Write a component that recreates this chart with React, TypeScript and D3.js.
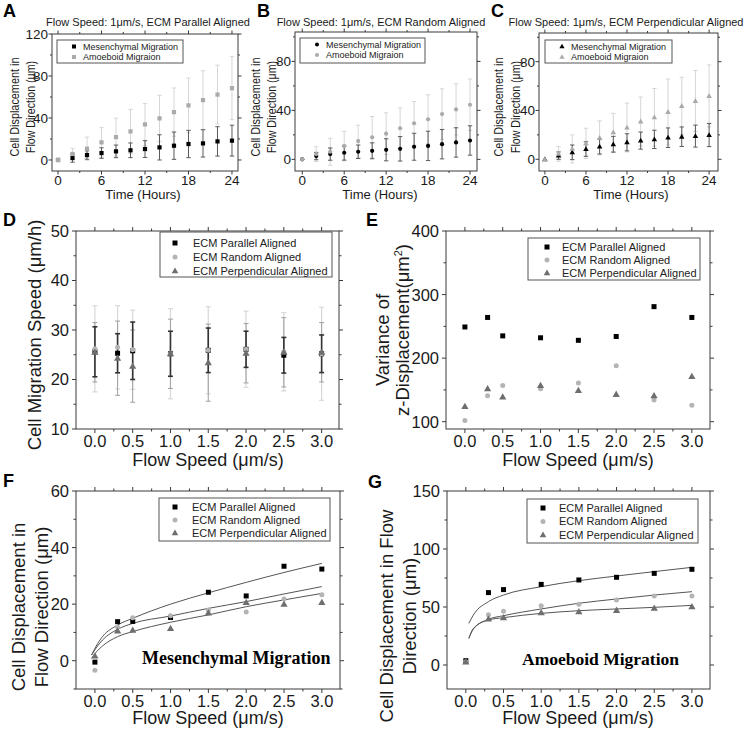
import React from "react";
import * as d3 from "d3";

// ---------------- DATA ----------------
const hours = [0, 2, 4, 6, 8, 10, 12, 14, 16, 18, 20, 22, 24];

// Panel A (ECM parallel aligned, flow 1 um/s)
const aMesMean = [0, 1.9, 4.7, 6.6, 8.2, 9.2, 10.4, 12, 13.6, 15.2, 15.8, 17.7, 18.4];
const aMesSd = [0, 4, 4, 5, 6, 7, 8, 12, 13, 13, 13, 14, 14.7];
const aAmoMean = [0, 5.7, 10.8, 16.8, 21.8, 27.2, 33.9, 39.6, 45.6, 52, 57, 62.3, 68.4];
const aAmoSd = [0, 5.5, 11, 14, 18, 21, 20, 22, 23, 26, 28, 28, 30];

// Panel B (ECM random aligned)
const bMesMean = [0, 2.7, 4.3, 5.4, 6.2, 7, 7.8, 8.6, 10.3, 11, 12.4, 13.8, 15.4];
const bMesSd = [0, 3, 5, 6, 5.5, 6.5, 9, 10, 11, 12, 12, 12, 12];
const bAmoMean = [0, 4.3, 6.2, 10.8, 14.9, 18, 21, 25.4, 29.5, 32.7, 37, 40.8, 44.6];
const bAmoSd = [0, 6, 11, 12, 13, 17, 17, 16.6, 17.8, 20, 20.6, 21, 21];

// Panel C (ECM perpendicular aligned)
const cMesMean = [0, 3, 5.7, 8.4, 10.4, 12.3, 13.9, 15.3, 16.3, 17.7, 18.5, 19, 19.9];
const cMesSd = [0, 3, 6, 6, 6, 6.5, 7, 7, 7.5, 8, 8, 9, 9.5];
const cAmoMean = [0, 4.4, 8.5, 13, 17.5, 22, 26, 31, 34.4, 38.8, 43.7, 47.8, 51.9];
const cAmoSd = [0, 6, 11.5, 12.4, 14, 15.7, 20, 20, 23.6, 27, 23.5, 25, 25.4];

const flowSpeed = [0, 0.3, 0.5, 1.0, 1.5, 2.0, 2.5, 3.0];

// Panel D: migration speed
const dParMean = [25.6, 25.3, 25.8, 25.2, 25.9, 26.1, 24.9, 25.2];
const dParSd = [5.05, 3.95, 5.8, 4.55, 4.5, 3.65, 3.6, 3.8];
const dRanMean = [26.2, 26.5, 26.0, 25.2, 25.9, 26.1, 25.6, 25.2];
const dRanSd = [8.7, 8.4, 8.0, 9.1, 8.8, 7.7, 7.9, 9.4];
const dPerMean = [25.5, 24.3, 22.7, 25.2, 23.4, 25.3, 25.5, 25.5];
const dPerSd = [6.0, 7.5, 7.3, 7.0, 7.8, 6.0, 7.0, 6.0];

// Panel E: variance of z-displacement
const ePar = [249, 264, 235, 232, 228, 234, 281, 264];
const eRan = [102, 141, 157, 152, 161, 188, 134, 126];
const ePer = [124, 152, 139, 157, 149, 143, 141, 171];

// Panel F: mesenchymal displacement
const fPar = [-0.5, 13.8, 13.9, 15.3, 24.2, 22.9, 33.4, 32.4];
const fRan = [-3.4, 11.8, 15.2, 15.9, 17.9, 17.2, 21.8, 23.3];
const fPer = [1.7, 10.5, 10.8, 11.4, 16.9, 20.6, 20.0, 20.6];
const fFitX = [-0.044, 0.013, 0.1, 0.3, 0.5, 1.0, 1.5, 2.0, 2.5, 3.0];
const fFitPar = [2.0, 5.0, 8.5, 12.6, 15.0, 20.0, 24.0, 27.7, 31.2, 34.4];
const fFitRan = [2.0, 4.4, 7.3, 11.1, 13.2, 15.8, 18.5, 20.9, 23.6, 26.2];
const fFitPer = [0.8, 2.9, 5.2, 8.5, 10.3, 13.6, 16.2, 19.1, 21.5, 23.8];

// Panel G: amoeboid displacement
const gPar = [3.7, 62.4, 65.0, 69.5, 73.3, 75.6, 79.0, 82.5];
const gRan = [2.9, 43.4, 46.3, 51.1, 52.3, 56.0, 59.5, 59.5];
const gPer = [2.6, 39.7, 40.8, 45.1, 46.0, 47.1, 48.9, 50.3];
const gFitX = [0.04, 0.1, 0.3, 0.5, 1.0, 1.5, 2.0, 2.5, 3.0];
const gFitPar = [35.9, 43.1, 54.6, 60.3, 67.5, 72.7, 76.7, 80.5, 84.2];
const gFitRan = [23.0, 31.0, 39.4, 42.5, 48.3, 53.2, 56.9, 60.3, 63.2];
const gFitPer = [23.0, 31.5, 38.8, 40.8, 44.5, 46.8, 48.3, 49.7, 51.4];

// ticks & labels
const timeTicks = [0, 6, 12, 18, 24];
const timeMinor = [3, 9, 15, 21];
const aYTicks = [0, 40, 80, 120];
const aYMinor = [20, 60, 100];
const bcYTicks = [0, 40, 80];
const bcYMinor = [20, 60, 100];
const flowTicks = [0, 0.5, 1.0, 1.5, 2.0, 2.5, 3.0];
const flowMinor = [0.25, 0.75, 1.25, 1.75, 2.25, 2.75];
const dYTicks = [10, 20, 30, 40, 50];
const dYMinor = [15, 25, 35, 45];
const eYTicks = [100, 200, 300, 400];
const eYMinor = [150, 250, 350];
const fYTicks = [0, 20, 40, 60];
const fYMinor = [-10, 10, 30, 50];
const gYTicks = [0, 50, 100, 150];
const gYMinor = [25, 75, 125];

const topLegend = ["Mesenchymal Migration", "Amoeboid Migraion"];
const ecmLegend = ["ECM Parallel Aligned", "ECM Random Aligned", "ECM Perpendicular Aligned"];

// ---------------- STYLE ----------------
const FONT = "'Liberation Sans', Arial, Helvetica, sans-serif";
const SERIF = "'Liberation Serif', 'Times New Roman', serif";
const AXIS = "#3a3a3a";
const C_PAR = "#000000";
const C_RAN = "#b4b4b4";
const C_PER = "#6e6e6e";

type Shape = "square" | "circle" | "triangle";

function Marker({ shape, x, y, size, fill }: { shape: Shape; x: number; y: number; size: number; fill: string }) {
  if (shape === "square") return <rect x={x - size / 2} y={y - size / 2} width={size} height={size} fill={fill} />;
  if (shape === "circle") return <circle cx={x} cy={y} r={size / 2} fill={fill} />;
  const p = d3.symbol(d3.symbolTriangle, size * size * 0.75)();
  return <path d={p || ""} transform={`translate(${x},${y + size * 0.08})`} fill={fill} />;
}

function Axes({ x, y, xMajor, xMinor, yMajor, yMinor, fmtX, fmtY, fs, xDy, yDx, maj, mnr }: any) {
  const [l, r] = x.range();
  const [b, t] = y.range();
  const ln = (k: string, x1: number, y1: number, x2: number, y2: number) => (
    <line key={k} x1={x1} y1={y1} x2={x2} y2={y2} stroke={AXIS} strokeWidth={1} />
  );
  const els: any[] = [];
  xMajor.forEach((v: number) => {
    els.push(ln("xb" + v, x(v), b, x(v), b + maj));
    els.push(ln("xt" + v, x(v), t, x(v), t - maj));
  });
  xMinor.forEach((v: number) => {
    els.push(ln("xbm" + v, x(v), b, x(v), b + mnr));
    els.push(ln("xtm" + v, x(v), t, x(v), t - mnr));
  });
  yMajor.forEach((v: number) => {
    els.push(ln("yl" + v, l, y(v), l - maj, y(v)));
    els.push(ln("yr" + v, r, y(v), r + maj, y(v)));
  });
  yMinor.forEach((v: number) => {
    els.push(ln("ylm" + v, l, y(v), l - mnr, y(v)));
    els.push(ln("yrm" + v, r, y(v), r + mnr, y(v)));
  });
  return (
    <g>
      <rect x={l} y={t} width={r - l} height={b - t} fill="none" stroke={AXIS} strokeWidth={1} />
      {els}
      <g fontFamily={FONT} fontSize={fs} fill="#1a1a1a">
        {xMajor.map((v: number) => (
          <text key={"lx" + v} x={x(v)} y={b + xDy} textAnchor="middle">{fmtX(v)}</text>
        ))}
        {yMajor.map((v: number) => (
          <text key={"ly" + v} x={l - yDx} y={y(v) + fs * 0.36} textAnchor="end">{fmtY(v)}</text>
        ))}
      </g>
    </g>
  );
}

function ErrBars({ xs, ys, sd, x, y, color, w, cap }: any) {
  return (
    <g stroke={color} strokeWidth={w}>
      {xs.map((v: number, i: number) =>
        sd[i] > 0 ? (
          <g key={i}>
            <line x1={x(v)} x2={x(v)} y1={y(ys[i] - sd[i])} y2={y(ys[i] + sd[i])} />
            <line x1={x(v) - cap} x2={x(v) + cap} y1={y(ys[i] + sd[i])} y2={y(ys[i] + sd[i])} />
            <line x1={x(v) - cap} x2={x(v) + cap} y1={y(ys[i] - sd[i])} y2={y(ys[i] - sd[i])} />
          </g>
        ) : null
      )}
    </g>
  );
}

function Points({ xs, ys, x, y, shape, size, fill }: any) {
  return (
    <g>
      {xs.map((v: number, i: number) => (
        <Marker key={i} shape={shape} x={x(v)} y={y(ys[i])} size={size} fill={fill} />
      ))}
    </g>
  );
}

function Legend({ box, rows, markerX, textX, fs, size }: any) {
  return (
    <g>
      <rect x={box[0]} y={box[1]} width={box[2] - box[0]} height={box[3] - box[1]} fill="#fff" stroke="#555" strokeWidth={1} />
      {rows.map((r: any, i: number) => (
        <g key={i}>
          <Marker shape={r.shape} x={markerX} y={r.y} size={size} fill={r.fill} />
          <text x={textX} y={r.y + fs * 0.36} fontFamily={FONT} fontSize={fs} fill="#222">{r.label}</text>
        </g>
      ))}
    </g>
  );
}

function RotLabel({ x, y, text, fs, len }: any) {
  return (
    <text
      transform={`translate(${x},${y}) rotate(-90)`}
      textAnchor="middle"
      fontFamily={FONT}
      fontSize={fs}
      fill="#1a1a1a"
      {...(len ? { textLength: len, lengthAdjust: "spacingAndGlyphs" } : {})}
    >
      {text}
    </text>
  );
}

function Letter({ x, y, t }: any) {
  return (
    <text x={x} y={y} fontFamily={FONT} fontSize={18} fontWeight="bold" fill="#000">{t}</text>
  );
}

// ---------------- TOP ROW ----------------
function TopPanel(p: any) {
  const x = d3.scaleLinear().domain(p.xDom).range([p.box[0], p.box[2]]);
  const y = d3.scaleLinear().domain(p.yDom).range([p.box[3], p.box[1]]);
  const lb = p.legend;
  return (
    <g>
      <Letter x={p.letterX} y={17} t={p.letter} />
      <text x={p.titleX} y={26} textAnchor="middle" fontFamily={FONT} fontSize={11} fill="#1a1a1a">{p.title}</text>
      <Axes x={x} y={y} xMajor={timeTicks} xMinor={timeMinor} yMajor={p.yMajor} yMinor={p.yMinor}
        fmtX={(v: number) => String(v)} fmtY={(v: number) => String(v)} fs={13.5} xDy={13.5} yDx={4} maj={3.5} mnr={2} />
      <ErrBars xs={hours} ys={p.amo} sd={p.amoSd} x={x} y={y} color="#d6d6d6" w={1} cap={2.2} />
      <ErrBars xs={hours} ys={p.mes} sd={p.mesSd} x={x} y={y} color="#5a5a5a" w={1} cap={2.2} />
      <Points xs={hours} ys={p.mes} x={x} y={y} shape={p.shape} size={4.2} fill="#000" />
      <Points xs={hours} ys={p.amo} x={x} y={y} shape={p.shape} size={4.2} fill="#aaaaaa" />
      <Legend box={lb} markerX={lb[0] + 17} textX={lb[0] + 26} fs={9} size={4}
        rows={[
          { shape: p.shape, fill: "#000", label: topLegend[0], y: lb[1] + 6.5 },
          { shape: p.shape, fill: "#aaaaaa", label: topLegend[1], y: lb[1] + 17 },
        ]} />
      <RotLabel x={p.yl1} y={107} text="Cell Displacement in" fs={13.5} len={99} />
      <RotLabel x={p.yl2} y={107} text="Flow Direction (μm)" fs={13.5} len={92} />
      <text x={p.xTitleX} y={198.5} textAnchor="middle" fontFamily={FONT} fontSize={13} fill="#1a1a1a">Time (Hours)</text>
    </g>
  );
}

// ---------------- BOTTOM PANELS ----------------
function flowAxes(x: any, y: any, yMajor: number[], yMinor: number[]) {
  return (
    <Axes x={x} y={y} xMajor={flowTicks} xMinor={flowMinor} yMajor={yMajor} yMinor={yMinor}
      fmtX={(v: number) => v.toFixed(1)} fmtY={(v: number) => String(v)} fs={16.5} xDy={17.5} yDx={7} maj={4} mnr={2.5} />
  );
}

function ecmRows(box: number[], step: number, first: number) {
  return [
    { shape: "square", fill: C_PAR, label: ecmLegend[0], y: box[1] + first },
    { shape: "circle", fill: C_RAN, label: ecmLegend[1], y: box[1] + first + step },
    { shape: "triangle", fill: C_PER, label: ecmLegend[2], y: box[1] + first + 2 * step },
  ];
}

function PanelD() {
  const x = d3.scaleLinear().domain([-0.25, 3.23]).range([76, 339]);
  const y = d3.scaleLinear().domain([10, 50]).range([429, 231]);
  const lb = [160, 232, 332, 277];
  return (
    <g>
      <Letter x={3} y={226} t="D" />
      {flowAxes(x, y, dYTicks, dYMinor)}
      <ErrBars xs={flowSpeed} ys={dRanMean} sd={dRanSd} x={x} y={y} color="#d8d8d8" w={1.2} cap={2.5} />
      <ErrBars xs={flowSpeed} ys={dPerMean} sd={dPerSd} x={x} y={y} color="#a0a0a0" w={1} cap={2.5} />
      <ErrBars xs={flowSpeed} ys={dParMean} sd={dParSd} x={x} y={y} color="#333" w={1.6} cap={2.5} />
      <Points xs={flowSpeed} ys={dParMean} x={x} y={y} shape="square" size={5} fill={C_PAR} />
      <Points xs={flowSpeed} ys={dRanMean} x={x} y={y} shape="circle" size={5} fill={C_RAN} />
      <Points xs={flowSpeed} ys={dPerMean} x={x} y={y} shape="triangle" size={5.5} fill={C_PER} />
      <Legend box={lb} markerX={175} textX={193} fs={11} size={5} rows={ecmRows(lb, 14, 11)} />
      <RotLabel x={41} y={335} text="Cell Migration Speed (μm/h)" fs={18.5} />
      <text x={208} y={466} textAnchor="middle" fontFamily={FONT} fontSize={18} fill="#1a1a1a">Flow Speed (μm/s)</text>
    </g>
  );
}

function PanelE() {
  const x = d3.scaleLinear().domain([-0.25, 3.24]).range([446, 710]);
  const y = d3.scaleLinear().domain([88.5, 400]).range([429, 231]);
  const lb = [528, 238, 700, 280];
  return (
    <g>
      <Letter x={366} y={226} t="E" />
      {flowAxes(x, y, eYTicks, eYMinor)}
      <Points xs={flowSpeed} ys={ePar} x={x} y={y} shape="square" size={5} fill={C_PAR} />
      <Points xs={flowSpeed} ys={eRan} x={x} y={y} shape="circle" size={5} fill={C_RAN} />
      <Points xs={flowSpeed} ys={ePer} x={x} y={y} shape="triangle" size={5.5} fill={C_PER} />
      <Legend box={lb} markerX={547} textX={562} fs={11} size={5} rows={ecmRows(lb, 13, 9)} />
      <RotLabel x={389} y={340} text="Variance of" fs={18.5} />
      <text transform="translate(409,330) rotate(-90)" textAnchor="middle" fontFamily={FONT} fontSize={18.5} fill="#1a1a1a">
        z-Displacement(μm<tspan fontSize={11} dy={-7}>2</tspan><tspan dy={7}>)</tspan>
      </text>
      <text x={578} y={466} textAnchor="middle" fontFamily={FONT} fontSize={18} fill="#1a1a1a">Flow Speed (μm/s)</text>
    </g>
  );
}

function FitLines({ xs, series, x, y }: any) {
  const line = d3.line<number>().x((_, i) => x(xs[i])).y((d) => y(d)).curve(d3.curveMonotoneX);
  return (
    <g fill="none" stroke="#555" strokeWidth={1}>
      {series.map((s: number[], i: number) => <path key={i} d={line(s) || ""} />)}
    </g>
  );
}

function PanelF() {
  const x = d3.scaleLinear().domain([-0.25, 3.24]).range([76, 340]);
  const y = d3.scaleLinear().domain([-10, 60]).range([689, 491]);
  const lb = [159, 498, 330, 541];
  return (
    <g>
      <Letter x={3} y={487} t="F" />
      {flowAxes(x, y, fYTicks, fYMinor)}
      <FitLines xs={fFitX} series={[fFitPar, fFitRan, fFitPer]} x={x} y={y} />
      <Points xs={flowSpeed} ys={fPar} x={x} y={y} shape="square" size={5} fill={C_PAR} />
      <Points xs={flowSpeed} ys={fRan} x={x} y={y} shape="circle" size={5} fill={C_RAN} />
      <Points xs={flowSpeed} ys={fPer} x={x} y={y} shape="triangle" size={5.5} fill={C_PER} />
      <Legend box={lb} markerX={175} textX={192} fs={11} size={5} rows={ecmRows(lb, 13, 9)} />
      <text x={142} y={664} fontFamily={SERIF} fontWeight="bold" fontSize={18} fill="#000">Mesenchymal Migration</text>
      <RotLabel x={25} y={607} text="Cell Displacement in" fs={18.5} />
      <RotLabel x={48} y={607} text="Flow Direction (μm)" fs={18.5} />
      <text x={208} y={724} textAnchor="middle" fontFamily={FONT} fontSize={18} fill="#1a1a1a">Flow Speed (μm/s)</text>
    </g>
  );
}

function PanelG() {
  const x = d3.scaleLinear().domain([-0.25, 3.24]).range([447, 710]);
  const y = d3.scaleLinear().domain([-20.7, 150]).range([689, 491]);
  const lb = [527, 499, 698, 543];
  return (
    <g>
      <Letter x={368} y={488} t="G" />
      {flowAxes(x, y, gYTicks, gYMinor)}
      <FitLines xs={gFitX} series={[gFitPar, gFitRan, gFitPer]} x={x} y={y} />
      <Points xs={flowSpeed} ys={gPar} x={x} y={y} shape="square" size={5} fill={C_PAR} />
      <Points xs={flowSpeed} ys={gRan} x={x} y={y} shape="circle" size={5} fill={C_RAN} />
      <Points xs={flowSpeed} ys={gPer} x={x} y={y} shape="triangle" size={5.5} fill={C_PER} />
      <Legend box={lb} markerX={543} textX={559} fs={11} size={5} rows={ecmRows(lb, 13.5, 9)} />
      <text x={522} y={665} fontFamily={SERIF} fontWeight="bold" fontSize={17.5} fill="#000">Amoeboid Migration</text>
      <RotLabel x={393} y={616} text="Cell Displacement in Flow" fs={18.5} />
      <RotLabel x={416} y={616} text="Direction (μm)" fs={18.5} />
      <text x={578} y={724} textAnchor="middle" fontFamily={FONT} fontSize={18} fill="#1a1a1a">Flow Speed (μm/s)</text>
    </g>
  );
}

export default function App() {
  return (
    <svg width={744} height={736} viewBox="0 0 744 736"
      style={{ position: "absolute", left: 0, top: 0, background: "#fff" }}>
      <rect x={0} y={0} width={744} height={736} fill="#fff" />
      <TopPanel letter="A" letterX={3} title="Flow Speed: 1μm/s, ECM Parallel Aligned" titleX={148}
        box={[52, 34, 238, 171]} xDom={[-0.83, 24.83]} yDom={[-10.5, 120]} yMajor={aYTicks} yMinor={aYMinor}
        mes={aMesMean} mesSd={aMesSd} amo={aAmoMean} amoSd={aAmoSd} shape="square"
        legend={[57, 40, 183, 63]} yl1={19} yl2={35} xTitleX={143} />
      <TopPanel letter="B" letterX={257} title="Flow Speed: 1μm/s, ECM Random Aligned" titleX={381}
        box={[295, 32, 477, 171]} xDom={[-1.04, 25]} yDom={[-9.5, 104]} yMajor={bcYTicks} yMinor={bcYMinor}
        mes={bMesMean} mesSd={bMesSd} amo={bAmoMean} amoSd={bAmoSd} shape="circle"
        legend={[300, 38, 425, 63]} yl1={260} yl2={276} xTitleX={380} />
      <TopPanel letter="C" letterX={491} title="Flow Speed: 1μm/s, ECM Perpendicular Aligned" titleX={626}
        box={[539, 33, 718, 171]} xDom={[-0.86, 25.3]} yDom={[-9.6, 103.5]} yMajor={bcYTicks} yMinor={bcYMinor}
        mes={cMesMean} mesSd={cMesSd} amo={cAmoMean} amoSd={cAmoSd} shape="triangle"
        legend={[545, 40, 672, 63]} yl1={503} yl2={520} xTitleX={631} />
      <PanelD />
      <PanelE />
      <PanelF />
      <PanelG />
    </svg>
  );
}
